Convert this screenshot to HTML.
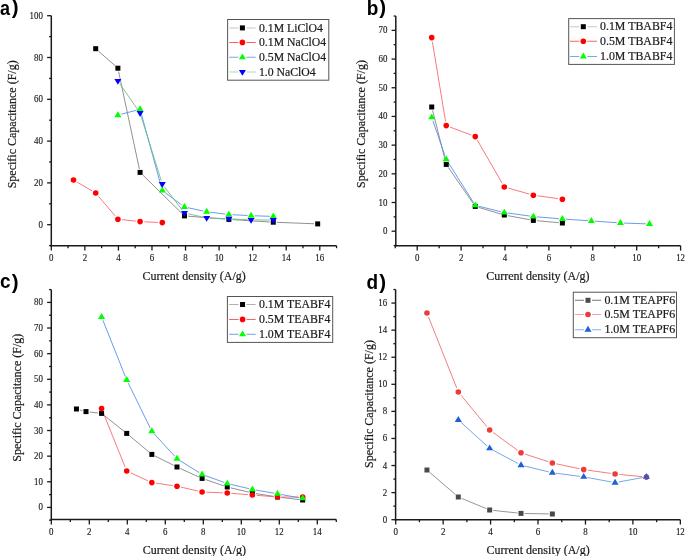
<!DOCTYPE html><html><head><meta charset="utf-8"><style>html,body{margin:0;padding:0;background:#fff;}
svg{display:block;will-change:transform;}
.t{font-family:"Liberation Serif",serif;font-size:10px;fill:#1a1a1a;stroke:#1a1a1a;stroke-width:0.15px;}
.at{font-family:"Liberation Serif",serif;font-size:12px;fill:#1a1a1a;stroke:#1a1a1a;stroke-width:0.2px;}
.lg{font-family:"Liberation Serif",serif;font-size:12px;fill:#1a1a1a;stroke:#1a1a1a;stroke-width:0.2px;}
.pl{font-family:"Liberation Sans",sans-serif;font-size:19px;font-weight:bold;fill:#000;}
</style></head><body><svg width="685" height="556" viewBox="0 0 685 556">
<rect width="685" height="556" fill="#fff"/>
<line x1="51.3" y1="15.7" x2="51.3" y2="246.45" stroke="#1a1a1a" stroke-width="1.5"/>
<line x1="50.55" y1="245.7" x2="336.56" y2="245.7" stroke="#1a1a1a" stroke-width="1.5"/>
<line x1="49.1" y1="245.6" x2="51.3" y2="245.6" stroke="#1a1a1a" stroke-width="1.3"/>
<line x1="47.1" y1="224.7" x2="51.3" y2="224.7" stroke="#1a1a1a" stroke-width="1.3"/>
<text transform="translate(42.9,227.7) scale(0.89,1)" text-anchor="end" class="t">0</text>
<line x1="49.1" y1="203.8" x2="51.3" y2="203.8" stroke="#1a1a1a" stroke-width="1.3"/>
<line x1="47.1" y1="182.9" x2="51.3" y2="182.9" stroke="#1a1a1a" stroke-width="1.3"/>
<text transform="translate(42.9,185.9) scale(0.89,1)" text-anchor="end" class="t">20</text>
<line x1="49.1" y1="162" x2="51.3" y2="162" stroke="#1a1a1a" stroke-width="1.3"/>
<line x1="47.1" y1="141.1" x2="51.3" y2="141.1" stroke="#1a1a1a" stroke-width="1.3"/>
<text transform="translate(42.9,144.1) scale(0.89,1)" text-anchor="end" class="t">40</text>
<line x1="49.1" y1="120.2" x2="51.3" y2="120.2" stroke="#1a1a1a" stroke-width="1.3"/>
<line x1="47.1" y1="99.3" x2="51.3" y2="99.3" stroke="#1a1a1a" stroke-width="1.3"/>
<text transform="translate(42.9,102.3) scale(0.89,1)" text-anchor="end" class="t">60</text>
<line x1="49.1" y1="78.4" x2="51.3" y2="78.4" stroke="#1a1a1a" stroke-width="1.3"/>
<line x1="47.1" y1="57.5" x2="51.3" y2="57.5" stroke="#1a1a1a" stroke-width="1.3"/>
<text transform="translate(42.9,60.5) scale(0.89,1)" text-anchor="end" class="t">80</text>
<line x1="49.1" y1="36.6" x2="51.3" y2="36.6" stroke="#1a1a1a" stroke-width="1.3"/>
<line x1="47.1" y1="15.7" x2="51.3" y2="15.7" stroke="#1a1a1a" stroke-width="1.3"/>
<text transform="translate(42.9,18.7) scale(0.89,1)" text-anchor="end" class="t">100</text>
<line x1="51.3" y1="245.7" x2="51.3" y2="250.6" stroke="#1a1a1a" stroke-width="1.3"/>
<text transform="translate(51.3,260.9) scale(0.89,1)" text-anchor="middle" class="t">0</text>
<line x1="68.08" y1="245.7" x2="68.08" y2="248.2" stroke="#1a1a1a" stroke-width="1.3"/>
<line x1="84.86" y1="245.7" x2="84.86" y2="250.6" stroke="#1a1a1a" stroke-width="1.3"/>
<text transform="translate(84.86,260.9) scale(0.89,1)" text-anchor="middle" class="t">2</text>
<line x1="101.64" y1="245.7" x2="101.64" y2="248.2" stroke="#1a1a1a" stroke-width="1.3"/>
<line x1="118.42" y1="245.7" x2="118.42" y2="250.6" stroke="#1a1a1a" stroke-width="1.3"/>
<text transform="translate(118.42,260.9) scale(0.89,1)" text-anchor="middle" class="t">4</text>
<line x1="135.2" y1="245.7" x2="135.2" y2="248.2" stroke="#1a1a1a" stroke-width="1.3"/>
<line x1="151.98" y1="245.7" x2="151.98" y2="250.6" stroke="#1a1a1a" stroke-width="1.3"/>
<text transform="translate(151.98,260.9) scale(0.89,1)" text-anchor="middle" class="t">6</text>
<line x1="168.76" y1="245.7" x2="168.76" y2="248.2" stroke="#1a1a1a" stroke-width="1.3"/>
<line x1="185.54" y1="245.7" x2="185.54" y2="250.6" stroke="#1a1a1a" stroke-width="1.3"/>
<text transform="translate(185.54,260.9) scale(0.89,1)" text-anchor="middle" class="t">8</text>
<line x1="202.32" y1="245.7" x2="202.32" y2="248.2" stroke="#1a1a1a" stroke-width="1.3"/>
<line x1="219.1" y1="245.7" x2="219.1" y2="250.6" stroke="#1a1a1a" stroke-width="1.3"/>
<text transform="translate(219.1,260.9) scale(0.89,1)" text-anchor="middle" class="t">10</text>
<line x1="235.88" y1="245.7" x2="235.88" y2="248.2" stroke="#1a1a1a" stroke-width="1.3"/>
<line x1="252.66" y1="245.7" x2="252.66" y2="250.6" stroke="#1a1a1a" stroke-width="1.3"/>
<text transform="translate(252.66,260.9) scale(0.89,1)" text-anchor="middle" class="t">12</text>
<line x1="269.44" y1="245.7" x2="269.44" y2="248.2" stroke="#1a1a1a" stroke-width="1.3"/>
<line x1="286.22" y1="245.7" x2="286.22" y2="250.6" stroke="#1a1a1a" stroke-width="1.3"/>
<text transform="translate(286.22,260.9) scale(0.89,1)" text-anchor="middle" class="t">14</text>
<line x1="303" y1="245.7" x2="303" y2="248.2" stroke="#1a1a1a" stroke-width="1.3"/>
<line x1="319.78" y1="245.7" x2="319.78" y2="250.6" stroke="#1a1a1a" stroke-width="1.3"/>
<text transform="translate(319.78,260.9) scale(0.89,1)" text-anchor="middle" class="t">16</text>
<line x1="336.56" y1="245.7" x2="336.56" y2="248.2" stroke="#1a1a1a" stroke-width="1.3"/>
<text x="142.5" y="280" class="at">Current density (A/g)</text>
<text transform="translate(15.9,188.3) rotate(-90)" class="at">Specific Capacitance (F/g)</text>
<text transform="translate(0,14.5) scale(0.9,1)" class="pl" style="font-size:20px">a</text>
<text x="11.7" y="14.1" class="pl" style="font-size:20.5px">)</text>
<line x1="395.8" y1="16.02" x2="395.8" y2="246.45" stroke="#1a1a1a" stroke-width="1.5"/>
<line x1="395.05" y1="245.7" x2="680.6" y2="245.7" stroke="#1a1a1a" stroke-width="1.5"/>
<line x1="393.6" y1="245.54" x2="395.8" y2="245.54" stroke="#1a1a1a" stroke-width="1.3"/>
<line x1="391.6" y1="231.2" x2="395.8" y2="231.2" stroke="#1a1a1a" stroke-width="1.3"/>
<text transform="translate(387.4,234.2) scale(0.89,1)" text-anchor="end" class="t">0</text>
<line x1="393.6" y1="216.85" x2="395.8" y2="216.85" stroke="#1a1a1a" stroke-width="1.3"/>
<line x1="391.6" y1="202.51" x2="395.8" y2="202.51" stroke="#1a1a1a" stroke-width="1.3"/>
<text transform="translate(387.4,205.51) scale(0.89,1)" text-anchor="end" class="t">10</text>
<line x1="393.6" y1="188.16" x2="395.8" y2="188.16" stroke="#1a1a1a" stroke-width="1.3"/>
<line x1="391.6" y1="173.82" x2="395.8" y2="173.82" stroke="#1a1a1a" stroke-width="1.3"/>
<text transform="translate(387.4,176.82) scale(0.89,1)" text-anchor="end" class="t">20</text>
<line x1="393.6" y1="159.47" x2="395.8" y2="159.47" stroke="#1a1a1a" stroke-width="1.3"/>
<line x1="391.6" y1="145.13" x2="395.8" y2="145.13" stroke="#1a1a1a" stroke-width="1.3"/>
<text transform="translate(387.4,148.13) scale(0.89,1)" text-anchor="end" class="t">30</text>
<line x1="393.6" y1="130.78" x2="395.8" y2="130.78" stroke="#1a1a1a" stroke-width="1.3"/>
<line x1="391.6" y1="116.44" x2="395.8" y2="116.44" stroke="#1a1a1a" stroke-width="1.3"/>
<text transform="translate(387.4,119.44) scale(0.89,1)" text-anchor="end" class="t">40</text>
<line x1="393.6" y1="102.09" x2="395.8" y2="102.09" stroke="#1a1a1a" stroke-width="1.3"/>
<line x1="391.6" y1="87.75" x2="395.8" y2="87.75" stroke="#1a1a1a" stroke-width="1.3"/>
<text transform="translate(387.4,90.75) scale(0.89,1)" text-anchor="end" class="t">50</text>
<line x1="393.6" y1="73.4" x2="395.8" y2="73.4" stroke="#1a1a1a" stroke-width="1.3"/>
<line x1="391.6" y1="59.06" x2="395.8" y2="59.06" stroke="#1a1a1a" stroke-width="1.3"/>
<text transform="translate(387.4,62.06) scale(0.89,1)" text-anchor="end" class="t">60</text>
<line x1="393.6" y1="44.71" x2="395.8" y2="44.71" stroke="#1a1a1a" stroke-width="1.3"/>
<line x1="391.6" y1="30.37" x2="395.8" y2="30.37" stroke="#1a1a1a" stroke-width="1.3"/>
<text transform="translate(387.4,33.37) scale(0.89,1)" text-anchor="end" class="t">70</text>
<line x1="393.6" y1="16.02" x2="395.8" y2="16.02" stroke="#1a1a1a" stroke-width="1.3"/>
<line x1="395.25" y1="245.7" x2="395.25" y2="248.2" stroke="#1a1a1a" stroke-width="1.3"/>
<line x1="417.2" y1="245.7" x2="417.2" y2="250.6" stroke="#1a1a1a" stroke-width="1.3"/>
<text transform="translate(417.2,260.9) scale(0.89,1)" text-anchor="middle" class="t">0</text>
<line x1="439.15" y1="245.7" x2="439.15" y2="248.2" stroke="#1a1a1a" stroke-width="1.3"/>
<line x1="461.1" y1="245.7" x2="461.1" y2="250.6" stroke="#1a1a1a" stroke-width="1.3"/>
<text transform="translate(461.1,260.9) scale(0.89,1)" text-anchor="middle" class="t">2</text>
<line x1="483.05" y1="245.7" x2="483.05" y2="248.2" stroke="#1a1a1a" stroke-width="1.3"/>
<line x1="505" y1="245.7" x2="505" y2="250.6" stroke="#1a1a1a" stroke-width="1.3"/>
<text transform="translate(505,260.9) scale(0.89,1)" text-anchor="middle" class="t">4</text>
<line x1="526.95" y1="245.7" x2="526.95" y2="248.2" stroke="#1a1a1a" stroke-width="1.3"/>
<line x1="548.9" y1="245.7" x2="548.9" y2="250.6" stroke="#1a1a1a" stroke-width="1.3"/>
<text transform="translate(548.9,260.9) scale(0.89,1)" text-anchor="middle" class="t">6</text>
<line x1="570.85" y1="245.7" x2="570.85" y2="248.2" stroke="#1a1a1a" stroke-width="1.3"/>
<line x1="592.8" y1="245.7" x2="592.8" y2="250.6" stroke="#1a1a1a" stroke-width="1.3"/>
<text transform="translate(592.8,260.9) scale(0.89,1)" text-anchor="middle" class="t">8</text>
<line x1="614.75" y1="245.7" x2="614.75" y2="248.2" stroke="#1a1a1a" stroke-width="1.3"/>
<line x1="636.7" y1="245.7" x2="636.7" y2="250.6" stroke="#1a1a1a" stroke-width="1.3"/>
<text transform="translate(636.7,260.9) scale(0.89,1)" text-anchor="middle" class="t">10</text>
<line x1="658.65" y1="245.7" x2="658.65" y2="248.2" stroke="#1a1a1a" stroke-width="1.3"/>
<line x1="680.6" y1="245.7" x2="680.6" y2="250.6" stroke="#1a1a1a" stroke-width="1.3"/>
<text transform="translate(680.6,260.9) scale(0.89,1)" text-anchor="middle" class="t">12</text>
<text x="486.3" y="280" class="at">Current density (A/g)</text>
<text transform="translate(364.5,188) rotate(-90)" class="at">Specific Capacitance (F/g)</text>
<text transform="translate(366.8,14.5) scale(0.95,1)" class="pl" style="font-size:20px">b</text>
<text x="379.2" y="14.1" class="pl" style="font-size:20.5px">)</text>
<line x1="51.3" y1="289.59" x2="51.3" y2="520.35" stroke="#1a1a1a" stroke-width="1.5"/>
<line x1="50.55" y1="519.6" x2="336.3" y2="519.6" stroke="#1a1a1a" stroke-width="1.5"/>
<line x1="49.1" y1="520.21" x2="51.3" y2="520.21" stroke="#1a1a1a" stroke-width="1.3"/>
<line x1="47.1" y1="507.4" x2="51.3" y2="507.4" stroke="#1a1a1a" stroke-width="1.3"/>
<text transform="translate(42.9,510.4) scale(0.89,1)" text-anchor="end" class="t">0</text>
<line x1="49.1" y1="494.59" x2="51.3" y2="494.59" stroke="#1a1a1a" stroke-width="1.3"/>
<line x1="47.1" y1="481.77" x2="51.3" y2="481.77" stroke="#1a1a1a" stroke-width="1.3"/>
<text transform="translate(42.9,484.77) scale(0.89,1)" text-anchor="end" class="t">10</text>
<line x1="49.1" y1="468.96" x2="51.3" y2="468.96" stroke="#1a1a1a" stroke-width="1.3"/>
<line x1="47.1" y1="456.15" x2="51.3" y2="456.15" stroke="#1a1a1a" stroke-width="1.3"/>
<text transform="translate(42.9,459.15) scale(0.89,1)" text-anchor="end" class="t">20</text>
<line x1="49.1" y1="443.34" x2="51.3" y2="443.34" stroke="#1a1a1a" stroke-width="1.3"/>
<line x1="47.1" y1="430.52" x2="51.3" y2="430.52" stroke="#1a1a1a" stroke-width="1.3"/>
<text transform="translate(42.9,433.52) scale(0.89,1)" text-anchor="end" class="t">30</text>
<line x1="49.1" y1="417.71" x2="51.3" y2="417.71" stroke="#1a1a1a" stroke-width="1.3"/>
<line x1="47.1" y1="404.9" x2="51.3" y2="404.9" stroke="#1a1a1a" stroke-width="1.3"/>
<text transform="translate(42.9,407.9) scale(0.89,1)" text-anchor="end" class="t">40</text>
<line x1="49.1" y1="392.09" x2="51.3" y2="392.09" stroke="#1a1a1a" stroke-width="1.3"/>
<line x1="47.1" y1="379.27" x2="51.3" y2="379.27" stroke="#1a1a1a" stroke-width="1.3"/>
<text transform="translate(42.9,382.27) scale(0.89,1)" text-anchor="end" class="t">50</text>
<line x1="49.1" y1="366.46" x2="51.3" y2="366.46" stroke="#1a1a1a" stroke-width="1.3"/>
<line x1="47.1" y1="353.65" x2="51.3" y2="353.65" stroke="#1a1a1a" stroke-width="1.3"/>
<text transform="translate(42.9,356.65) scale(0.89,1)" text-anchor="end" class="t">60</text>
<line x1="49.1" y1="340.84" x2="51.3" y2="340.84" stroke="#1a1a1a" stroke-width="1.3"/>
<line x1="47.1" y1="328.02" x2="51.3" y2="328.02" stroke="#1a1a1a" stroke-width="1.3"/>
<text transform="translate(42.9,331.02) scale(0.89,1)" text-anchor="end" class="t">70</text>
<line x1="49.1" y1="315.21" x2="51.3" y2="315.21" stroke="#1a1a1a" stroke-width="1.3"/>
<line x1="47.1" y1="302.4" x2="51.3" y2="302.4" stroke="#1a1a1a" stroke-width="1.3"/>
<text transform="translate(42.9,305.4) scale(0.89,1)" text-anchor="end" class="t">80</text>
<line x1="49.1" y1="289.59" x2="51.3" y2="289.59" stroke="#1a1a1a" stroke-width="1.3"/>
<line x1="51.3" y1="519.6" x2="51.3" y2="524.5" stroke="#1a1a1a" stroke-width="1.3"/>
<text transform="translate(51.3,534.8) scale(0.89,1)" text-anchor="middle" class="t">0</text>
<line x1="70.3" y1="519.6" x2="70.3" y2="522.1" stroke="#1a1a1a" stroke-width="1.3"/>
<line x1="89.3" y1="519.6" x2="89.3" y2="524.5" stroke="#1a1a1a" stroke-width="1.3"/>
<text transform="translate(89.3,534.8) scale(0.89,1)" text-anchor="middle" class="t">2</text>
<line x1="108.3" y1="519.6" x2="108.3" y2="522.1" stroke="#1a1a1a" stroke-width="1.3"/>
<line x1="127.3" y1="519.6" x2="127.3" y2="524.5" stroke="#1a1a1a" stroke-width="1.3"/>
<text transform="translate(127.3,534.8) scale(0.89,1)" text-anchor="middle" class="t">4</text>
<line x1="146.3" y1="519.6" x2="146.3" y2="522.1" stroke="#1a1a1a" stroke-width="1.3"/>
<line x1="165.3" y1="519.6" x2="165.3" y2="524.5" stroke="#1a1a1a" stroke-width="1.3"/>
<text transform="translate(165.3,534.8) scale(0.89,1)" text-anchor="middle" class="t">6</text>
<line x1="184.3" y1="519.6" x2="184.3" y2="522.1" stroke="#1a1a1a" stroke-width="1.3"/>
<line x1="203.3" y1="519.6" x2="203.3" y2="524.5" stroke="#1a1a1a" stroke-width="1.3"/>
<text transform="translate(203.3,534.8) scale(0.89,1)" text-anchor="middle" class="t">8</text>
<line x1="222.3" y1="519.6" x2="222.3" y2="522.1" stroke="#1a1a1a" stroke-width="1.3"/>
<line x1="241.3" y1="519.6" x2="241.3" y2="524.5" stroke="#1a1a1a" stroke-width="1.3"/>
<text transform="translate(241.3,534.8) scale(0.89,1)" text-anchor="middle" class="t">10</text>
<line x1="260.3" y1="519.6" x2="260.3" y2="522.1" stroke="#1a1a1a" stroke-width="1.3"/>
<line x1="279.3" y1="519.6" x2="279.3" y2="524.5" stroke="#1a1a1a" stroke-width="1.3"/>
<text transform="translate(279.3,534.8) scale(0.89,1)" text-anchor="middle" class="t">12</text>
<line x1="298.3" y1="519.6" x2="298.3" y2="522.1" stroke="#1a1a1a" stroke-width="1.3"/>
<line x1="317.3" y1="519.6" x2="317.3" y2="524.5" stroke="#1a1a1a" stroke-width="1.3"/>
<text transform="translate(317.3,534.8) scale(0.89,1)" text-anchor="middle" class="t">14</text>
<line x1="336.3" y1="519.6" x2="336.3" y2="522.1" stroke="#1a1a1a" stroke-width="1.3"/>
<text x="142.7" y="553.9" class="at">Current density (A/g)</text>
<text transform="translate(20.5,461.7) rotate(-90)" class="at">Specific Capacitance (F/g)</text>
<text transform="translate(0,288.3) scale(0.95,1)" class="pl" style="font-size:20px">c</text>
<text x="11.7" y="288.6" class="pl" style="font-size:20.5px">)</text>
<line x1="395.6" y1="289.52" x2="395.6" y2="520.45" stroke="#1a1a1a" stroke-width="1.5"/>
<line x1="394.85" y1="519.7" x2="680.34" y2="519.7" stroke="#1a1a1a" stroke-width="1.5"/>
<line x1="391.4" y1="519.7" x2="395.6" y2="519.7" stroke="#1a1a1a" stroke-width="1.3"/>
<text transform="translate(387.2,522.7) scale(0.89,1)" text-anchor="end" class="t">0</text>
<line x1="393.4" y1="506.16" x2="395.6" y2="506.16" stroke="#1a1a1a" stroke-width="1.3"/>
<line x1="391.4" y1="492.62" x2="395.6" y2="492.62" stroke="#1a1a1a" stroke-width="1.3"/>
<text transform="translate(387.2,495.62) scale(0.89,1)" text-anchor="end" class="t">2</text>
<line x1="393.4" y1="479.08" x2="395.6" y2="479.08" stroke="#1a1a1a" stroke-width="1.3"/>
<line x1="391.4" y1="465.54" x2="395.6" y2="465.54" stroke="#1a1a1a" stroke-width="1.3"/>
<text transform="translate(387.2,468.54) scale(0.89,1)" text-anchor="end" class="t">4</text>
<line x1="393.4" y1="452" x2="395.6" y2="452" stroke="#1a1a1a" stroke-width="1.3"/>
<line x1="391.4" y1="438.46" x2="395.6" y2="438.46" stroke="#1a1a1a" stroke-width="1.3"/>
<text transform="translate(387.2,441.46) scale(0.89,1)" text-anchor="end" class="t">6</text>
<line x1="393.4" y1="424.92" x2="395.6" y2="424.92" stroke="#1a1a1a" stroke-width="1.3"/>
<line x1="391.4" y1="411.38" x2="395.6" y2="411.38" stroke="#1a1a1a" stroke-width="1.3"/>
<text transform="translate(387.2,414.38) scale(0.89,1)" text-anchor="end" class="t">8</text>
<line x1="393.4" y1="397.84" x2="395.6" y2="397.84" stroke="#1a1a1a" stroke-width="1.3"/>
<line x1="391.4" y1="384.3" x2="395.6" y2="384.3" stroke="#1a1a1a" stroke-width="1.3"/>
<text transform="translate(387.2,387.3) scale(0.89,1)" text-anchor="end" class="t">10</text>
<line x1="393.4" y1="370.76" x2="395.6" y2="370.76" stroke="#1a1a1a" stroke-width="1.3"/>
<line x1="391.4" y1="357.22" x2="395.6" y2="357.22" stroke="#1a1a1a" stroke-width="1.3"/>
<text transform="translate(387.2,360.22) scale(0.89,1)" text-anchor="end" class="t">12</text>
<line x1="393.4" y1="343.68" x2="395.6" y2="343.68" stroke="#1a1a1a" stroke-width="1.3"/>
<line x1="391.4" y1="330.14" x2="395.6" y2="330.14" stroke="#1a1a1a" stroke-width="1.3"/>
<text transform="translate(387.2,333.14) scale(0.89,1)" text-anchor="end" class="t">14</text>
<line x1="393.4" y1="316.6" x2="395.6" y2="316.6" stroke="#1a1a1a" stroke-width="1.3"/>
<line x1="391.4" y1="303.06" x2="395.6" y2="303.06" stroke="#1a1a1a" stroke-width="1.3"/>
<text transform="translate(387.2,306.06) scale(0.89,1)" text-anchor="end" class="t">16</text>
<line x1="393.4" y1="289.52" x2="395.6" y2="289.52" stroke="#1a1a1a" stroke-width="1.3"/>
<line x1="395.7" y1="519.7" x2="395.7" y2="524.6" stroke="#1a1a1a" stroke-width="1.3"/>
<text transform="translate(395.7,534.9) scale(0.89,1)" text-anchor="middle" class="t">0</text>
<line x1="419.42" y1="519.7" x2="419.42" y2="522.2" stroke="#1a1a1a" stroke-width="1.3"/>
<line x1="443.14" y1="519.7" x2="443.14" y2="524.6" stroke="#1a1a1a" stroke-width="1.3"/>
<text transform="translate(443.14,534.9) scale(0.89,1)" text-anchor="middle" class="t">2</text>
<line x1="466.86" y1="519.7" x2="466.86" y2="522.2" stroke="#1a1a1a" stroke-width="1.3"/>
<line x1="490.58" y1="519.7" x2="490.58" y2="524.6" stroke="#1a1a1a" stroke-width="1.3"/>
<text transform="translate(490.58,534.9) scale(0.89,1)" text-anchor="middle" class="t">4</text>
<line x1="514.3" y1="519.7" x2="514.3" y2="522.2" stroke="#1a1a1a" stroke-width="1.3"/>
<line x1="538.02" y1="519.7" x2="538.02" y2="524.6" stroke="#1a1a1a" stroke-width="1.3"/>
<text transform="translate(538.02,534.9) scale(0.89,1)" text-anchor="middle" class="t">6</text>
<line x1="561.74" y1="519.7" x2="561.74" y2="522.2" stroke="#1a1a1a" stroke-width="1.3"/>
<line x1="585.46" y1="519.7" x2="585.46" y2="524.6" stroke="#1a1a1a" stroke-width="1.3"/>
<text transform="translate(585.46,534.9) scale(0.89,1)" text-anchor="middle" class="t">8</text>
<line x1="609.18" y1="519.7" x2="609.18" y2="522.2" stroke="#1a1a1a" stroke-width="1.3"/>
<line x1="632.9" y1="519.7" x2="632.9" y2="524.6" stroke="#1a1a1a" stroke-width="1.3"/>
<text transform="translate(632.9,534.9) scale(0.89,1)" text-anchor="middle" class="t">10</text>
<line x1="656.62" y1="519.7" x2="656.62" y2="522.2" stroke="#1a1a1a" stroke-width="1.3"/>
<line x1="680.34" y1="519.7" x2="680.34" y2="524.6" stroke="#1a1a1a" stroke-width="1.3"/>
<text transform="translate(680.34,534.9) scale(0.89,1)" text-anchor="middle" class="t">12</text>
<text x="486.4" y="553.9" class="at">Current density (A/g)</text>
<text transform="translate(372.6,468) rotate(-90)" class="at">Specific Capacitance (F/g)</text>
<text transform="translate(366.6,288.5) scale(0.95,1)" class="pl" style="font-size:20px">d</text>
<text x="379.2" y="288.6" class="pl" style="font-size:20.5px">)</text>
<path d="M98.4,51.08L115.19,65.82M118.64,71.72L139.34,168.88M142.66,174.92L181.92,213.38M188.08,216.18L225.3,219.12M232.48,219.63L269.69,221.97M276.88,222.34L314.08,223.76" fill="none" stroke="#858585" stroke-width="0.9"/>
<path d="M77.21,182.17L91.99,190.83M98.48,196.28L115.12,215.92M122.17,219.66L135.82,221.14M144.39,221.79L158,222.41" fill="none" stroke="#f86a70" stroke-width="0.9"/>
<path d="M121.37,114.23L136.61,110.17M141.04,112.72L161.34,187.08M165.19,192.69L181.59,204.81M188.01,207.71L203.17,210.99M210.26,212.2L225.31,214.1M232.48,214.73L247.49,215.47M254.68,215.78L269.68,216.32" fill="none" stroke="#5a90ea" stroke-width="0.9"/>
<path d="M119.94,83.91L138.05,110.09M141.17,116.49L161.22,180.61M164.48,186.9L182.3,210.1M188,213.74L203.18,217.16M210.29,218.08L225.29,218.62M232.48,218.93L247.49,219.67M254.68,219.88L269.68,220.02" fill="none" stroke="#6cbb94" stroke-width="0.9"/>
<rect x="93.2" y="46.2" width="5" height="5" fill="#000"/>
<rect x="115.39" y="65.7" width="5" height="5" fill="#000"/>
<rect x="137.59" y="169.9" width="5" height="5" fill="#000"/>
<rect x="181.99" y="213.4" width="5" height="5" fill="#000"/>
<rect x="226.39" y="216.9" width="5" height="5" fill="#000"/>
<rect x="270.78" y="219.7" width="5" height="5" fill="#000"/>
<rect x="315.18" y="221.4" width="5" height="5" fill="#000"/>
<circle cx="73.5" cy="180" r="2.8" fill="#ff0000"/>
<circle cx="95.7" cy="193" r="2.8" fill="#ff0000"/>
<circle cx="117.89" cy="219.2" r="2.8" fill="#ff0000"/>
<circle cx="140.09" cy="221.6" r="2.8" fill="#ff0000"/>
<circle cx="162.29" cy="222.6" r="2.8" fill="#ff0000"/>
<path d="M117.89,111.25L121.44,117.15L114.34,117.15Z" fill="#00ff00"/>
<path d="M140.09,105.35L143.64,111.25L136.54,111.25Z" fill="#00ff00"/>
<path d="M162.29,186.65L165.84,192.55L158.74,192.55Z" fill="#00ff00"/>
<path d="M184.49,203.05L188.04,208.95L180.94,208.95Z" fill="#00ff00"/>
<path d="M206.69,207.85L210.24,213.75L203.14,213.75Z" fill="#00ff00"/>
<path d="M228.89,210.65L232.44,216.55L225.34,216.55Z" fill="#00ff00"/>
<path d="M251.08,211.75L254.63,217.65L247.53,217.65Z" fill="#00ff00"/>
<path d="M273.28,212.55L276.83,218.45L269.73,218.45Z" fill="#00ff00"/>
<path d="M114.39,79L121.39,79L117.89,84.8Z" fill="#0000ff"/>
<path d="M136.59,111.1L143.59,111.1L140.09,116.9Z" fill="#0000ff"/>
<path d="M158.79,182.1L165.79,182.1L162.29,187.9Z" fill="#0000ff"/>
<path d="M180.99,211L187.99,211L184.49,216.8Z" fill="#0000ff"/>
<path d="M203.19,216L210.19,216L206.69,221.8Z" fill="#0000ff"/>
<path d="M225.39,216.8L232.39,216.8L228.89,222.6Z" fill="#0000ff"/>
<path d="M247.58,217.9L254.58,217.9L251.08,223.7Z" fill="#0000ff"/>
<path d="M269.78,218.1L276.78,218.1L273.28,223.9Z" fill="#0000ff"/>
<rect x="227.6" y="19.5" width="101.2" height="60.7" fill="#fff" stroke="#555" stroke-width="1"/>
<path d="M229.1,27.9H238.4M246.4,27.9H255.7" stroke="#c8c8c8" stroke-width="1.05" fill="none"/>
<rect x="239.9" y="25.4" width="5" height="5" fill="#000"/>
<text transform="translate(259,31.6) scale(0.978,1)" class="lg">0.1M LiClO4</text>
<path d="M229.1,42.4H238.4M246.4,42.4H255.7" stroke="#ff6060" stroke-width="1.05" fill="none"/>
<circle cx="242.4" cy="42.4" r="2.8" fill="#ff0000"/>
<text transform="translate(259,46.1) scale(0.978,1)" class="lg">0.1M NaClO4</text>
<path d="M229.1,57.3H238.4M246.4,57.3H255.7" stroke="#7aa6ee" stroke-width="1.05" fill="none"/>
<path d="M242.4,53.4L245.95,59.3L238.85,59.3Z" fill="#00ff00"/>
<text transform="translate(259,61) scale(0.978,1)" class="lg">0.5M NaClO4</text>
<path d="M229.1,71.9H238.4M246.4,71.9H255.7" stroke="#a8dcc0" stroke-width="1.05" fill="none"/>
<path d="M238.9,69.95L245.9,69.95L242.4,75.75Z" fill="#0000ff"/>
<text transform="translate(259,75.9) scale(0.978,1)" class="lg">1.0 NaClO4</text>
<path d="M432.6,110.49L445.35,160.91M448.28,167.36L473.22,203.44M478.72,207.42L500.85,213.98M507.85,215.66L529.8,219.74M536.93,220.72L558.79,222.68" fill="none" stroke="#858585" stroke-width="0.9"/>
<path d="M432.42,41.84L445.54,121.36M450.26,127.12L471.25,135.08M477.42,140.33L502.16,183.27M508.44,188.17L529.2,194.03M537.6,195.79L558.12,198.61" fill="none" stroke="#f86a70" stroke-width="0.9"/>
<path d="M432.89,120.75L445.06,155.95M448.16,162.39L473.35,202.31M478.77,206.22L500.81,211.68M507.87,213.04L529.78,216.06M536.93,216.85L558.79,218.65M565.97,219.2L587.82,220.7M595,221.2L616.86,222.7M624.05,223.07L645.89,223.83" fill="none" stroke="#5a90ea" stroke-width="0.9"/>
<rect x="429.22" y="104.5" width="5" height="5" fill="#000"/>
<rect x="443.74" y="161.9" width="5" height="5" fill="#000"/>
<rect x="472.77" y="203.9" width="5" height="5" fill="#000"/>
<rect x="501.81" y="212.5" width="5" height="5" fill="#000"/>
<rect x="530.84" y="217.9" width="5" height="5" fill="#000"/>
<rect x="559.88" y="220.5" width="5" height="5" fill="#000"/>
<circle cx="431.72" cy="37.6" r="2.8" fill="#ff0000"/>
<circle cx="446.24" cy="125.6" r="2.8" fill="#ff0000"/>
<circle cx="475.27" cy="136.6" r="2.8" fill="#ff0000"/>
<circle cx="504.31" cy="187" r="2.8" fill="#ff0000"/>
<circle cx="533.34" cy="195.2" r="2.8" fill="#ff0000"/>
<circle cx="562.38" cy="199.2" r="2.8" fill="#ff0000"/>
<path d="M431.72,113.45L435.27,119.35L428.17,119.35Z" fill="#00ff00"/>
<path d="M446.24,155.45L449.79,161.35L442.69,161.35Z" fill="#00ff00"/>
<path d="M475.27,201.45L478.82,207.35L471.72,207.35Z" fill="#00ff00"/>
<path d="M504.31,208.65L507.86,214.55L500.76,214.55Z" fill="#00ff00"/>
<path d="M533.34,212.65L536.89,218.55L529.79,218.55Z" fill="#00ff00"/>
<path d="M562.38,215.05L565.93,220.95L558.83,220.95Z" fill="#00ff00"/>
<path d="M591.41,217.05L594.96,222.95L587.86,222.95Z" fill="#00ff00"/>
<path d="M620.45,219.05L624,224.95L616.9,224.95Z" fill="#00ff00"/>
<path d="M649.48,220.05L653.03,225.95L645.93,225.95Z" fill="#00ff00"/>
<rect x="568.7" y="18.6" width="105.7" height="45.8" fill="#fff" stroke="#555" stroke-width="1"/>
<path d="M570,26.7H579.3M587.3,26.7H597" stroke="#c8c8c8" stroke-width="1.05" fill="none"/>
<rect x="580.8" y="24.2" width="5" height="5" fill="#000"/>
<text transform="translate(600,30.4) scale(0.99,1)" class="lg">0.1M TBABF4</text>
<path d="M570,41.3H579.3M587.3,41.3H597" stroke="#ff6060" stroke-width="1.05" fill="none"/>
<circle cx="583.3" cy="41.3" r="2.8" fill="#ff0000"/>
<text transform="translate(600,45) scale(0.99,1)" class="lg">0.5M TBABF4</text>
<path d="M570,56.4H579.3M587.3,56.4H597" stroke="#7aa6ee" stroke-width="1.05" fill="none"/>
<path d="M583.3,52.5L586.85,58.4L579.75,58.4Z" fill="#00ff00"/>
<text transform="translate(600,59.7) scale(0.99,1)" class="lg">1.0M TBABF4</text>
<path d="M79.91,409.94L82.53,410.66M89.58,412.01L97.99,412.99M104.39,415.64L123.89,431.16M129.47,435.71L149.08,452.09M155.06,456.01L173.76,465.39M180.25,468.49L198.83,476.91M205.52,479.57L223.84,485.83M230.75,487.84L248.88,492.16M255.94,493.57L273.96,496.43M281.09,497.43L299.08,499.57" fill="none" stroke="#858585" stroke-width="0.9"/>
<path d="M103.18,412.59L125.1,467.01M130.61,472.8L147.94,480.8M156.1,483.21L172.72,485.59M181.17,487.17L197.92,491.03M206.41,492.17L222.95,492.83M231.53,493.34L248.09,494.66M256.67,495.34L273.23,496.66M281.82,497L298.35,497" fill="none" stroke="#f86a70" stroke-width="0.9"/>
<path d="M102.9,320.29L125.37,376.61M128.29,383.18L150.26,428.02M154.27,433.91L174.55,456.09M180.03,460.66L199.06,472.54M205.5,475.68L223.86,482.32M230.75,484.37L248.88,488.63M255.93,490.07L273.97,493.23M281.06,494.48L299.11,497.72" fill="none" stroke="#5a90ea" stroke-width="0.9"/>
<rect x="73.94" y="406.5" width="5" height="5" fill="#000"/>
<rect x="83.5" y="409.1" width="5" height="5" fill="#000"/>
<rect x="99.07" y="410.9" width="5" height="5" fill="#000"/>
<rect x="124.21" y="430.9" width="5" height="5" fill="#000"/>
<rect x="149.34" y="451.9" width="5" height="5" fill="#000"/>
<rect x="174.48" y="464.5" width="5" height="5" fill="#000"/>
<rect x="199.61" y="475.9" width="5" height="5" fill="#000"/>
<rect x="224.75" y="484.5" width="5" height="5" fill="#000"/>
<rect x="249.88" y="490.5" width="5" height="5" fill="#000"/>
<rect x="275.02" y="494.5" width="5" height="5" fill="#000"/>
<rect x="300.15" y="497.5" width="5" height="5" fill="#000"/>
<circle cx="101.57" cy="408.6" r="2.8" fill="#ff0000"/>
<circle cx="126.71" cy="471" r="2.8" fill="#ff0000"/>
<circle cx="151.84" cy="482.6" r="2.8" fill="#ff0000"/>
<circle cx="176.98" cy="486.2" r="2.8" fill="#ff0000"/>
<circle cx="202.11" cy="492" r="2.8" fill="#ff0000"/>
<circle cx="227.25" cy="493" r="2.8" fill="#ff0000"/>
<circle cx="252.38" cy="495" r="2.8" fill="#ff0000"/>
<circle cx="277.52" cy="497" r="2.8" fill="#ff0000"/>
<circle cx="302.65" cy="497" r="2.8" fill="#ff0000"/>
<path d="M101.57,313.05L105.12,318.95L98.02,318.95Z" fill="#00ff00"/>
<path d="M126.71,376.05L130.26,381.95L123.16,381.95Z" fill="#00ff00"/>
<path d="M151.84,427.35L155.39,433.25L148.29,433.25Z" fill="#00ff00"/>
<path d="M176.98,454.85L180.53,460.75L173.43,460.75Z" fill="#00ff00"/>
<path d="M202.11,470.55L205.66,476.45L198.56,476.45Z" fill="#00ff00"/>
<path d="M227.25,479.65L230.8,485.55L223.7,485.55Z" fill="#00ff00"/>
<path d="M252.38,485.55L255.93,491.45L248.83,491.45Z" fill="#00ff00"/>
<path d="M277.52,489.95L281.07,495.85L273.97,495.85Z" fill="#00ff00"/>
<path d="M302.65,494.45L306.2,500.35L299.1,500.35Z" fill="#00ff00"/>
<rect x="227.4" y="296.5" width="105.3" height="45.9" fill="#fff" stroke="#555" stroke-width="1"/>
<path d="M229.1,304.5H238.55M246.55,304.5H255.6" stroke="#b0b0b0" stroke-width="1.05" fill="none"/>
<rect x="240.05" y="302" width="5" height="5" fill="#000"/>
<text transform="translate(259,308.3) scale(0.985,1)" class="lg">0.1M TEABF4</text>
<path d="M229.1,319.4H238.55M246.55,319.4H255.6" stroke="#ff6060" stroke-width="1.05" fill="none"/>
<circle cx="242.55" cy="319.4" r="2.8" fill="#ff0000"/>
<text transform="translate(259,323.2) scale(0.985,1)" class="lg">0.5M TEABF4</text>
<path d="M229.1,334.3H238.55M246.55,334.3H255.6" stroke="#6f9fee" stroke-width="1.05" fill="none"/>
<path d="M242.55,330.4L246.1,336.3L239,336.3Z" fill="#00ff00"/>
<text transform="translate(259,338.1) scale(0.985,1)" class="lg">1.0M TEABF4</text>
<path d="M429.68,472.35L455.58,494.65M461.63,498.38L486.33,508.62M493.24,510.39L517.43,513.01M524.61,513.47L548.76,513.93" fill="none" stroke="#8a8a8a" stroke-width="0.9"/>
<path d="M428.54,317L456.72,388M461.04,395.32L486.92,426.68M493.14,432.53L517.53,450.27M525.1,454.13L548.27,461.67M556.57,463.89L579.51,468.71M587.97,470.2L610.81,473.4M619.35,474.42L642.14,476.68" fill="none" stroke="#f07070" stroke-width="0.9"/>
<path d="M460.97,422.37L486.99,445.93M492.83,450.05L517.84,463.45M524.51,466L548.86,471.9M555.93,473.22L580.15,476.38M587.26,477.5L611.53,482M618.61,482L642.88,477.5" fill="none" stroke="#6a9ae8" stroke-width="0.9"/>
<rect x="424.45" y="467.5" width="5" height="5" fill="#4a4a4a"/>
<rect x="455.81" y="494.5" width="5" height="5" fill="#4a4a4a"/>
<rect x="487.16" y="507.5" width="5" height="5" fill="#4a4a4a"/>
<rect x="518.51" y="510.9" width="5" height="5" fill="#4a4a4a"/>
<rect x="549.86" y="511.5" width="5" height="5" fill="#4a4a4a"/>
<circle cx="426.95" cy="313" r="2.8" fill="#ee3a3a"/>
<circle cx="458.31" cy="392" r="2.8" fill="#ee3a3a"/>
<circle cx="489.66" cy="430" r="2.8" fill="#ee3a3a"/>
<circle cx="521.01" cy="452.8" r="2.8" fill="#ee3a3a"/>
<circle cx="552.36" cy="463" r="2.8" fill="#ee3a3a"/>
<circle cx="583.72" cy="469.6" r="2.8" fill="#ee3a3a"/>
<circle cx="615.07" cy="474" r="2.8" fill="#ee3a3a"/>
<circle cx="646.42" cy="477.1" r="2.8" fill="#ee3a3a"/>
<path d="M458.31,416.05L461.86,421.95L454.76,421.95Z" fill="#1f5fd8"/>
<path d="M489.66,444.45L493.21,450.35L486.11,450.35Z" fill="#1f5fd8"/>
<path d="M521.01,461.25L524.56,467.15L517.46,467.15Z" fill="#1f5fd8"/>
<path d="M552.36,468.85L555.91,474.75L548.81,474.75Z" fill="#1f5fd8"/>
<path d="M583.72,472.95L587.27,478.85L580.17,478.85Z" fill="#1f5fd8"/>
<path d="M615.07,478.75L618.62,484.65L611.52,484.65Z" fill="#1f5fd8"/>
<path d="M646.42,472.95L649.97,478.85L642.87,478.85Z" fill="#1f5fd8"/>
<rect x="573.3" y="292.2" width="103.2" height="45.5" fill="#fff" stroke="#555" stroke-width="1"/>
<path d="M574.9,300.3H584M592,300.3H601.1" stroke="#777777" stroke-width="1.05" fill="none"/>
<rect x="585.5" y="297.8" width="5" height="5" fill="#4a4a4a"/>
<text transform="translate(604.4,303.7) scale(0.995,1)" class="lg">0.1M TEAPF6</text>
<path d="M574.9,314.5H584M592,314.5H601.1" stroke="#f6a0a0" stroke-width="1.05" fill="none"/>
<circle cx="588" cy="314.5" r="2.8" fill="#ee3a3a"/>
<text transform="translate(604.4,317.9) scale(0.995,1)" class="lg">0.5M TEAPF6</text>
<path d="M574.9,329.7H584M592,329.7H601.1" stroke="#8ab0f0" stroke-width="1.05" fill="none"/>
<path d="M588,325.8L591.55,331.7L584.45,331.7Z" fill="#1f5fd8"/>
<text transform="translate(604.4,332.6) scale(0.995,1)" class="lg">1.0M TEAPF6</text>
</svg></body></html>
